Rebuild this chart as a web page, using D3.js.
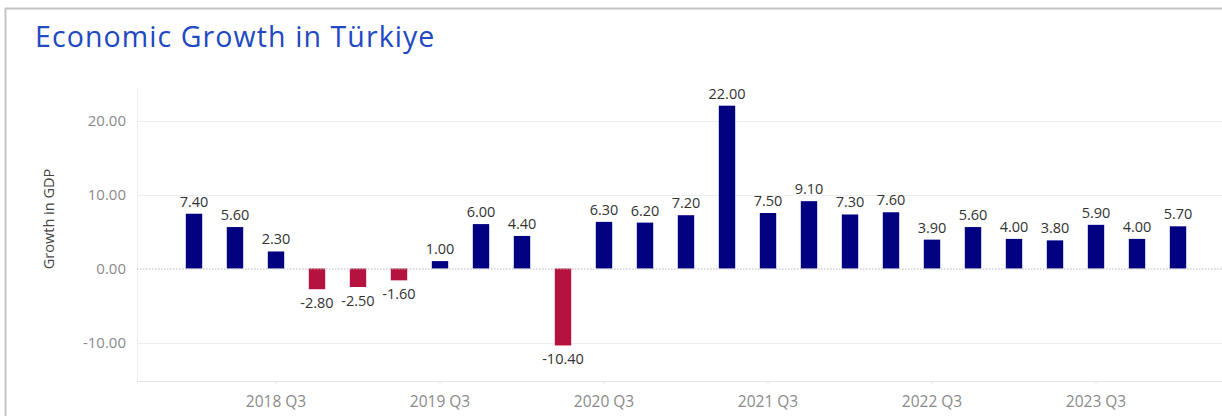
<!DOCTYPE html>
<html>
<head>
<meta charset="utf-8">
<script src="https://cdn.jsdelivr.net/npm/d3@7"></script>
<style>
  html, body { margin: 0; padding: 0; background: #fff; }
  svg { display: block; font-family: "Open Sans", "Noto Sans", sans-serif; }
</style>
</head>
<body>
<svg id="chart" width="1222" height="416"></svg>
<script>
// Quarterly GDP growth, Türkiye
const quarters = [
  "2018 Q1","2018 Q2","2018 Q3","2018 Q4",
  "2019 Q1","2019 Q2","2019 Q3","2019 Q4",
  "2020 Q1","2020 Q2","2020 Q3","2020 Q4",
  "2021 Q1","2021 Q2","2021 Q3","2021 Q4",
  "2022 Q1","2022 Q2","2022 Q3","2022 Q4",
  "2023 Q1","2023 Q2","2023 Q3","2023 Q4",
  "2024 Q1"
];
const growth = [
  7.40, 5.60, 2.30, -2.80,
  -2.50, -1.60, 1.00, 6.00,
  4.40, -10.40, 6.30, 6.20,
  7.20, 22.00, 7.50, 9.10,
  7.30, 7.60, 3.90, 5.60,
  4.00, 3.80, 5.90, 4.00,
  5.70
];
const xTickLabels = ["2018 Q3","2019 Q3","2020 Q3","2021 Q3","2022 Q3","2023 Q3"];
const yTicks = [-10, 0, 10, 20];

const data = quarters.map((q, i) => ({ q, v: growth[i] }));

// two decimals with a plain hyphen for negatives
const fmt = v => d3.format(".2f")(v).replace("\u2212", "-");

const svg = d3.select("#chart");

// panel frame
svg.append("line").attr("x1", 5).attr("x2", 1222).attr("y1", 8.5).attr("y2", 8.5)
  .attr("stroke", "#c4c4c4").attr("stroke-width", 2);
svg.append("line").attr("x1", 5.5).attr("x2", 5.5).attr("y1", 8).attr("y2", 416)
  .attr("stroke", "#c4c4c4").attr("stroke-width", 2);

// title
svg.append("text")
  .attr("x", 35).attr("y", 47)
  .attr("fill", "#2149c2")
  .attr("font-size", 28.5)
  .attr("font-weight", 500)
  .attr("letter-spacing", 1.1)
  .text("Economic Growth in Türkiye");

const plot = { left: 137, right: 1222, top: 88, bottom: 381 };

const x = d3.scaleBand()
  .domain(quarters)
  .range([173.5, 173.5 + 41 * quarters.length])
  .paddingInner(0.6)
  .paddingOuter(0.3);

const y = d3.scaleLinear().domain([0, 20]).range([268.5, 120.5]);

// plot edges
svg.append("line").attr("x1", plot.left + 0.5).attr("x2", plot.left + 0.5)
  .attr("y1", plot.top).attr("y2", plot.bottom)
  .attr("stroke", "#ececec");
svg.append("line").attr("x1", plot.left).attr("x2", plot.right)
  .attr("y1", plot.bottom + 0.5).attr("y2", plot.bottom + 0.5)
  .attr("stroke", "#e6e6e6");

// gridlines
svg.append("g").selectAll("line")
  .data(yTicks.filter(t => t !== 0))
  .join("line")
  .attr("x1", plot.left).attr("x2", plot.right)
  .attr("y1", d => Math.round(y(d)) + 0.5).attr("y2", d => Math.round(y(d)) + 0.5)
  .attr("stroke", "#eeeeee");

// y axis labels
const yAxis = d3.axisLeft(y).tickValues(yTicks).tickFormat(fmt).tickSize(0).tickPadding(0);
const yg = svg.append("g").attr("transform", `translate(126,0)`).call(yAxis);
yg.select(".domain").remove();
yg.selectAll("text").attr("fill", "#8a8a8a").attr("font-size", 15)
  .attr("font-family", "Open Sans, Noto Sans, sans-serif");

// y axis title
svg.append("text")
  .attr("transform", "translate(54,219) rotate(-90)")
  .attr("text-anchor", "middle")
  .attr("fill", "#444")
  .attr("font-size", 14.5)
  .text("Growth in GDP");

// bars
svg.append("g").selectAll("rect")
  .data(data)
  .join("rect")
  .attr("x", d => x(d.q))
  .attr("width", x.bandwidth())
  .attr("y", d => y(Math.max(0, d.v)))
  .attr("height", d => Math.abs(y(d.v) - y(0)))
  .attr("fill", d => d.v < 0 ? "#b5123f" : "#000080");

// zero line
svg.append("line").attr("x1", plot.left).attr("x2", plot.right)
  .attr("y1", y(0) + 0.5).attr("y2", y(0) + 0.5)
  .attr("stroke", "#b8b8b8").attr("stroke-dasharray", "1.5,1.5");

// value labels
svg.append("g").selectAll("text")
  .data(data)
  .join("text")
  .attr("x", d => x(d.q) + x.bandwidth() / 2)
  .attr("y", d => d.v >= 0 ? y(d.v) - 7 : y(d.v) + 19)
  .attr("text-anchor", "middle")
  .attr("fill", "#333")
  .attr("font-size", 14.5)
  .text(d => fmt(d.v));

// x axis
const xAxis = d3.axisBottom(x).tickValues(xTickLabels).tickSize(3).tickPadding(11);
const xg = svg.append("g").attr("transform", `translate(0,${plot.bottom + 0.5})`).call(xAxis);
xg.select(".domain").remove();
xg.selectAll(".tick line").attr("stroke", "#e6e6e6");
xg.selectAll("text").attr("fill", "#8a8a8a").attr("font-size", 15.5)
  .attr("font-family", "Open Sans, Noto Sans, sans-serif");
</script>
</body>
</html>
